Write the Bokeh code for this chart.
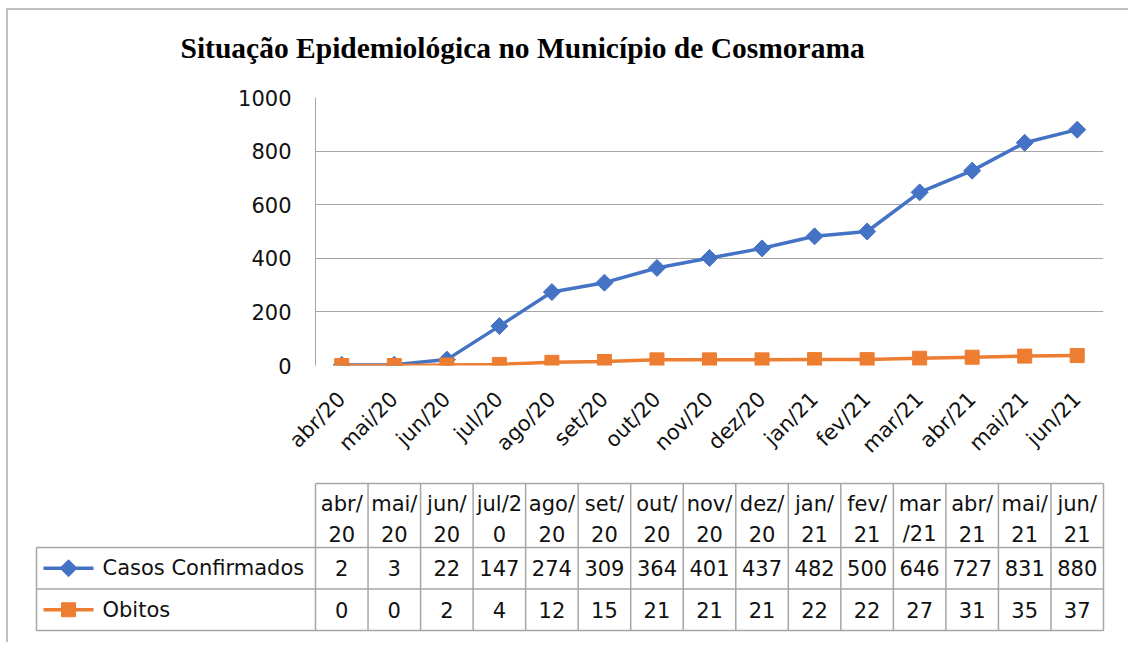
import math
from bokeh.plotting import figure
from bokeh.models import FactorRange, Range1d, FixedTicker, ColumnDataSource, Title
from bokeh.layouts import column
from bokeh.embed import file_html
from bokeh.resources import INLINE
from bokeh.core.properties import value

# ---------------- data ----------------
categories = ["abr/20", "mai/20", "jun/20", "jul/20", "ago/20", "set/20", "out/20",
              "nov/20", "dez/20", "jan/21", "fev/21", "mar/21", "abr/21", "mai/21", "jun/21"]
casos = [2, 3, 22, 147, 274, 309, 364, 401, 437, 482, 500, 646, 727, 831, 880]
obitos = [0, 0, 2, 4, 12, 15, 21, 21, 21, 22, 22, 27, 31, 35, 37]
header_top = ["abr/", "mai/", "jun/", "jul/2", "ago/", "set/", "out/", "nov/", "dez/",
              "jan/", "fev/", "mar", "abr/", "mai/", "jun/"]
header_bottom = ["20", "20", "20", "0", "20", "20", "20", "20", "20",
                 "21", "21", "/21", "21", "21", "21"]
y_ticks = [0, 200, 400, 600, 800, 1000]
series_names = ["Casos Confirmados", "Obitos"]
title_text = "Situação Epidemiológica no Município de Cosmorama"

BLUE = "#4472C4"
ORANGE = "#ED7D31"
GRID = "#A6A6A6"
TXT = "#111111"
FONT = "DejaVu Sans"
FS = "21px"

# ---------------- layout (page pixels) ----------------
OX, OY = 8, 10          # figure origin on page (after margin + border)
W = 1120
FL, FR, FT, FB = 315, 1103, 97, 365
H1 = 475 - OY

p1 = figure(x_range=FactorRange(factors=categories, range_padding=0),
            y_range=Range1d(0, 1000),
            width=W, height=H1, output_backend="svg", toolbar_location=None,
            min_border_left=FL - OX, min_border_right=OX + W - FR,
            min_border_top=FT - OY, min_border_bottom=OY + H1 - FB,
            outline_line_color=None, background_fill_color="white",
            border_fill_color="white")
p1.frame_align = False

# spacer between title and plot area (closest panel to the frame)
p1.add_layout(Title(text=" ", text_font_size="1px", standoff=31), "above")

p1.title.text = title_text
p1.title.text_font = "Liberation Serif"
p1.title.text_font_style = "bold"
p1.title.text_font_size = "29.5px"
p1.title.text_color = "#000000"
p1.title.align = "left"
p1.title.offset = 180 - FL
p1.title.standoff = 0

p1.xgrid.grid_line_color = None
p1.ygrid.grid_line_color = GRID
p1.ygrid.grid_line_width = 1
p1.yaxis.ticker = FixedTicker(ticks=y_ticks)
p1.yaxis.axis_line_color = GRID
p1.yaxis.major_tick_line_color = None
p1.yaxis.minor_tick_line_color = None
p1.yaxis.major_tick_out = 0
p1.yaxis.major_label_standoff = 24
p1.yaxis.major_label_text_font = FONT
p1.yaxis.major_label_text_font_size = FS
p1.yaxis.major_label_text_color = TXT

p1.xaxis.axis_line_color = None
p1.xaxis.major_tick_line_color = None
p1.xaxis.major_tick_out = 0
p1.xaxis.major_label_orientation = math.pi / 4
p1.xaxis.major_label_standoff = 30
p1.xaxis.major_label_text_font = FONT
p1.xaxis.major_label_text_font_size = FS
p1.xaxis.major_label_text_color = TXT

src = ColumnDataSource(dict(x=categories, casos=casos, obitos=obitos))
p1.line("x", "casos", source=src, line_color=BLUE, line_width=3.5)
p1.scatter("x", "casos", source=src, marker="square", angle=math.pi / 4, size=12,
           fill_color=BLUE, line_color=BLUE)
p1.line("x", "obitos", source=src, line_color=ORANGE, line_width=3.5)
p1.scatter("x", "obitos", source=src, marker="square", size=14,
           fill_color=ORANGE, line_color=ORANGE)

# ---------------- data table ----------------
CW = (FR - FL) / len(categories)   # column width in px
RH = 41.5                          # row height in px
Y0 = 630                           # bottom of table, page px
T_TOP, T_BOT = 475, 642
TFL, TFR, TFT, TFB = 30, 1110, 478, 636
H2 = T_BOT - T_TOP

def xu(px):
    return (px - FL) / CW

def yu(py):
    return (Y0 - py) / RH

p2 = figure(x_range=Range1d(xu(TFL), xu(TFR)), y_range=Range1d(yu(TFB), yu(TFT)),
            width=W, height=H2, output_backend="svg", toolbar_location=None,
            x_axis_location=None, y_axis_location=None,
            min_border_left=TFL - OX, min_border_right=OX + W - TFR,
            min_border_top=TFT - T_TOP, min_border_bottom=T_BOT - TFB,
            outline_line_color=None, background_fill_color="white",
            border_fill_color="white")
p2.frame_align = False
p2.grid.grid_line_color = None

n = len(categories)
head_top_y = yu(483)
leg_left = xu(36)

# table lines
x0s, y0s, x1s, y1s = [], [], [], []
for i in range(n + 1):
    x0s.append(i); x1s.append(i); y0s.append(0); y1s.append(head_top_y)
x0s.append(leg_left); x1s.append(leg_left); y0s.append(0); y1s.append(2)
x0s.append(0); x1s.append(n); y0s.append(head_top_y); y1s.append(head_top_y)
for r in range(3):
    x0s.append(leg_left); x1s.append(n); y0s.append(r); y1s.append(r)
p2.segment(x0=x0s, y0=y0s, x1=x1s, y1=y1s, line_color=GRID, line_width=1.5)

centers = [i + 0.5 for i in range(n)]
tsrc = ColumnDataSource(dict(x=centers, ht=header_top, hb=header_bottom,
                             c=[str(v) for v in casos], o=[str(v) for v in obitos],
                             yt=[yu(503)] * n, yb=[yu(533)] * n,
                             yc=[1.5] * n, yo=[0.5] * n))
common = dict(source=tsrc, text_align="center", text_baseline="middle",
              text_font=value(FONT), text_font_size=FS, text_color=TXT)
p2.text(x="x", y="yt", text="ht", **common)
p2.text(x="x", y="yb", text="hb", **common)
p2.text(x="x", y="yc", text="c", **common)
p2.text(x="x", y="yo", text="o", **common)

# legend keys
for row_y, col, mk, ang, sz in [(1.5, BLUE, "square", math.pi / 4, 12),
                                (0.5, ORANGE, "square", 0, 14)]:
    p2.segment(x0=[xu(43)], y0=[row_y], x1=[xu(93)], y1=[row_y], line_color=col, line_width=3.5)
    p2.scatter(x=[xu(68)], y=[row_y], marker=mk, angle=ang, size=sz,
               fill_color=col, line_color=col)
p2.text(x=[xu(102)] * 2, y=[1.5, 0.5], text=series_names, text_align="left",
        text_baseline="middle", text_font=value(FONT), text_font_size=FS, text_color=TXT)

layout = column(p1, p2, spacing=0,
                styles={"border-left": "2px solid #BFBFBF", "border-top": "2px solid #BFBFBF",
                        "margin-left": "6px", "margin-top": "8px"})

open("out.html", "w").write(file_html(layout, INLINE))
